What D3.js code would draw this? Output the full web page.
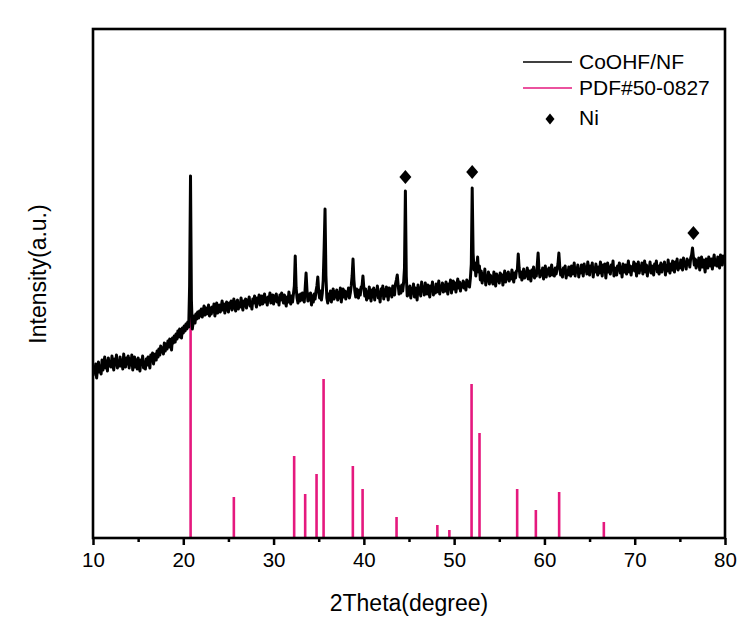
<!DOCTYPE html>
<html>
<head>
<meta charset="utf-8">
<script src="https://cdn.jsdelivr.net/npm/d3@7"></script>
<style>
  html, body { margin: 0; padding: 0; background: #ffffff; }
  svg { display: block; font-family: "Liberation Sans", Arial, sans-serif; }
</style>
</head>
<body>
<svg id="chart" width="743" height="619"></svg>
<script>
// XRD pattern of CoOHF/NF, sampled every 0.1° from 10° to 80° (arbitrary units)
const scanStart = 10;
const scanStep = 0.1;
const intensity = [
  162,171,165,174,160,169,176,166,172,164,
  178,168,175,181,170,177,167,180,172,176,
  171,182,174,168,179,173,183,170,177,172,
  181,172,178,169,184,175,171,180,174,182,
  170,179,173,183,168,176,181,171,178,169,
  180,172,167,178,174,182,170,176,169,179,
  173,181,176,170,183,177,185,174,180,184,
  178,187,181,189,183,192,186,190,184,195,
  187,194,189,197,191,199,193,188,200,195,
  202,196,204,199,207,201,209,203,200,210,
  205,212,207,214,209,216,211,252,362,238,
  209,216,222,215,224,219,226,220,227,222,
  229,221,227,232,223,230,224,228,233,222,
  230,224,231,226,234,222,229,235,225,231,
  233,226,231,237,228,234,225,232,236,229,
  226,235,230,237,228,233,239,231,227,236,
  238,229,235,231,240,233,228,237,232,239,
  230,238,234,241,232,236,229,239,235,242,
  237,231,240,235,243,233,238,242,234,239,
  244,236,240,233,241,238,245,235,239,243,
  234,242,237,244,236,240,233,243,238,245,
  240,235,243,237,232,241,236,246,239,234,
  242,236,244,252,282,250,240,235,243,237,
  244,238,245,241,236,250,265,248,237,244,
  238,245,233,242,236,244,239,247,252,261,
  246,240,247,238,245,258,290,329,262,240,
  235,244,238,247,236,243,249,239,246,241,
  248,238,245,240,250,236,244,249,241,247,
  239,246,242,250,240,245,252,262,279,258,
  247,241,249,244,240,248,243,251,252,262,
  250,242,249,238,246,240,251,243,237,248,
  241,250,238,247,243,252,240,246,236,249,
  244,252,239,248,242,251,245,238,250,243,
  249,241,252,246,243,254,258,263,253,244,
  251,245,253,247,255,270,347,262,242,250,
  243,252,240,249,245,254,241,250,246,238,
  253,244,250,242,256,247,251,243,255,248,
  244,253,247,241,252,248,256,243,250,245,
  254,246,251,257,244,252,248,255,246,253,
  247,256,250,244,254,249,258,245,252,257,
  249,255,246,253,259,250,256,247,254,251,
  257,250,255,248,258,252,256,251,260,274,
  350,285,268,275,262,270,281,266,272,258,
  267,255,264,258,269,253,262,257,266,254,
  263,256,261,254,266,258,252,264,257,262,
  255,265,258,263,253,261,267,256,264,259,
  266,257,263,259,268,261,256,265,260,267,
  268,284,270,261,266,258,264,269,260,266,
  262,270,259,267,263,257,268,262,271,260,
  266,262,272,285,268,261,267,263,270,259,
  266,272,261,268,264,270,262,267,273,263,
  268,262,270,264,269,274,285,271,263,268,
  261,270,265,272,260,267,263,271,266,262,
  272,264,269,275,262,270,266,273,261,268,
  265,273,268,262,274,267,271,264,276,269,
  263,272,267,275,261,270,266,274,268,263,
  271,265,276,268,262,273,267,274,260,270,
  275,266,271,264,273,269,277,262,270,267,
  263,272,268,275,265,271,261,274,269,266,
  273,264,270,277,266,272,263,271,268,276,
  267,274,262,270,276,265,272,268,275,264,
  270,277,266,273,262,271,268,276,265,272,
  268,263,274,270,277,266,272,264,271,275,
  266,273,269,276,263,272,267,278,270,265,
  274,268,277,271,266,276,270,279,268,274,
  270,278,273,268,280,272,276,269,279,274,
  277,271,280,283,290,281,273,279,270,277,
  272,280,268,276,281,271,278,273,266,279,
  274,270,281,276,272,279,269,277,283,273,
  278,272,281,275,270,283,277,273,282,276,
  279
];
const twoTheta = intensity.map((_, i) => +(scanStart + i * scanStep).toFixed(1));

// Reference pattern PDF#50-0827: line positions (2θ) and heights (a.u.)
const refAngles  = [20.81, 25.60, 32.28, 33.50, 34.76, 35.54, 38.78, 39.86, 43.62, 48.14, 49.47, 51.93, 52.81, 56.98, 59.05, 61.63, 66.58];
const refHeights = [255, 41, 82, 44, 64, 159, 72, 49, 21, 13, 8, 154, 105, 49, 28, 46, 16];

// Ni reflections flagged with a diamond (2θ, marker level in a.u.)
const niAngles = [44.6, 52.0, 76.5];
const niLevels = [361, 366, 305];

// Axis ticks
const majorTicks = [10, 20, 30, 40, 50, 60, 70, 80];
const minorTicks = [15, 25, 35, 45, 55, 65, 75];

// Legend entries
const legendLabels = ["CoOHF/NF", "PDF#50-0827", "Ni"];

const black = "#000000";
const pink = "#e5197e";

const svg = d3.select("#chart");
const plot = { left: 93, right: 725, top: 29, bottom: 538 };

const x = d3.scaleLinear().domain([10, 80]).range([plot.left, plot.right]);
const y = d3.scaleLinear().domain([0, 509]).range([plot.bottom, plot.top]);

svg.append("rect").attr("width", 743).attr("height", 619).attr("fill", "#ffffff");

svg.append("clipPath").attr("id", "plot-clip")
  .append("rect")
  .attr("x", plot.left).attr("y", plot.top)
  .attr("width", plot.right - plot.left).attr("height", plot.bottom - plot.top);

const area = svg.append("g").attr("clip-path", "url(#plot-clip)");

// Reference lines
area.append("g")
  .selectAll("line")
  .data(refAngles)
  .join("line")
  .attr("x1", d => x(d)).attr("x2", d => x(d))
  .attr("y1", y(0))
  .attr("y2", (d, i) => y(refHeights[i]))
  .attr("stroke", pink)
  .attr("stroke-width", 2.6);

// Measured pattern
const line = d3.line()
  .x((d, i) => x(twoTheta[i]))
  .y(d => y(d));

area.append("path")
  .datum(intensity)
  .attr("d", line)
  .attr("fill", "none")
  .attr("stroke", black)
  .attr("stroke-width", 3)
  .attr("stroke-linejoin", "round");

// Ni markers
const diamond = (cx, cy, hw, hh) =>
  `M${cx},${cy - hh}L${cx + hw},${cy}L${cx},${cy + hh}L${cx - hw},${cy}Z`;

area.append("g")
  .selectAll("path")
  .data(niAngles)
  .join("path")
  .attr("d", (d, i) => diamond(x(d), y(niLevels[i]), 6, 7))
  .attr("fill", black);

// Bottom axis: major ticks with labels, minor ticks without
const xAxis = d3.axisBottom(x)
  .tickValues(majorTicks)
  .tickSize(7)
  .tickPadding(7)
  .tickFormat(d3.format("d"));

const gx = svg.append("g")
  .attr("transform", `translate(0,${plot.bottom})`)
  .call(xAxis);
gx.select(".domain").remove();
gx.selectAll(".tick line").attr("stroke", black).attr("stroke-width", 2.5);
gx.selectAll(".tick text")
  .attr("fill", black)
  .attr("font-size", 20.5)
  .attr("font-family", "Liberation Sans, Arial, sans-serif");

const gxMinor = svg.append("g")
  .attr("transform", `translate(0,${plot.bottom})`)
  .call(d3.axisBottom(x).tickValues(minorTicks).tickSize(4).tickFormat(""));
gxMinor.select(".domain").remove();
gxMinor.selectAll(".tick line").attr("stroke", black).attr("stroke-width", 2.5);

// Frame
svg.append("rect")
  .attr("x", plot.left).attr("y", plot.top)
  .attr("width", plot.right - plot.left).attr("height", plot.bottom - plot.top)
  .attr("fill", "none")
  .attr("stroke", black)
  .attr("stroke-width", 2.6);

// Axis titles
svg.append("text")
  .attr("x", (plot.left + plot.right) / 2)
  .attr("y", 611)
  .attr("text-anchor", "middle")
  .attr("font-size", 23)
  .attr("fill", black)
  .text("2Theta(degree)");

svg.append("text")
  .attr("transform", "translate(46,274) rotate(-90)")
  .attr("text-anchor", "middle")
  .attr("font-size", 23)
  .attr("fill", black)
  .text("Intensity(a.u.)");

// Legend
const legend = svg.append("g");
legend.append("line")
  .attr("x1", 523).attr("x2", 572).attr("y1", 62).attr("y2", 62)
  .attr("stroke", black).attr("stroke-width", 1.6);
legend.append("line")
  .attr("x1", 523).attr("x2", 572).attr("y1", 88).attr("y2", 88)
  .attr("stroke", pink).attr("stroke-width", 1.6);
legend.append("path")
  .attr("d", diamond(550, 119, 4.5, 5.5))
  .attr("fill", black);
legend.selectAll("text")
  .data(legendLabels)
  .join("text")
  .attr("x", 579)
  .attr("y", (d, i) => [69, 95, 125][i])
  .attr("font-size", 21)
  .attr("fill", black)
  .text(d => d);
</script>
</body>
</html>
